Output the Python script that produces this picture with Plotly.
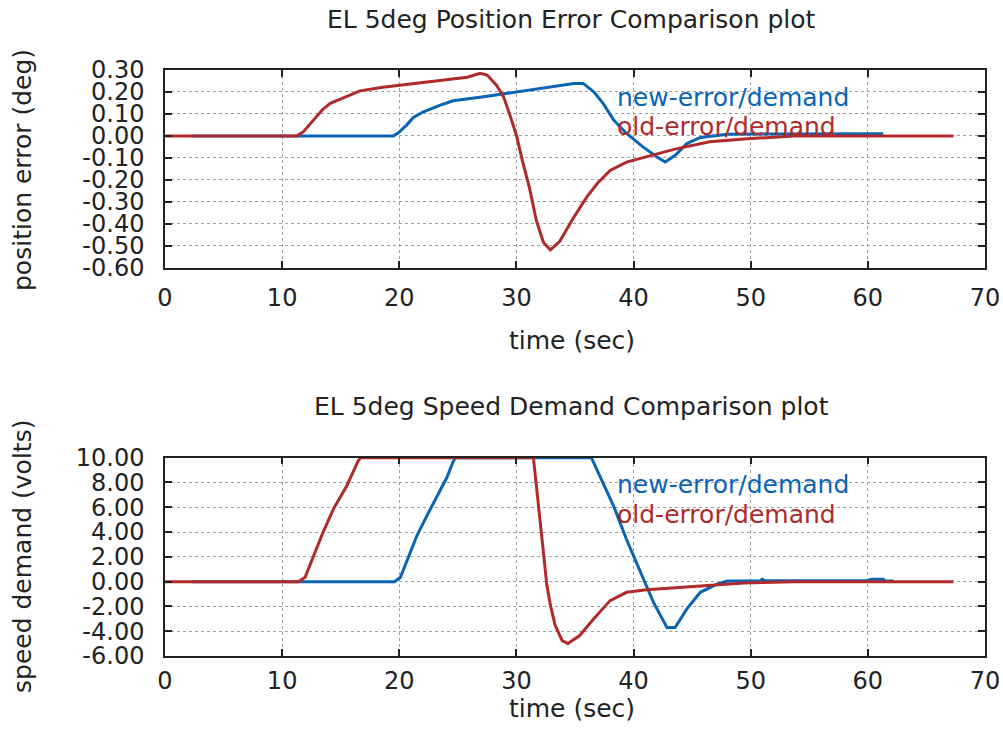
import plotly.graph_objects as go

# ---- data: position error (deg) vs time (sec) ----
new_err_t = [2.3, 19.5, 19.9, 20.6, 21.2, 22.06, 23.5, 24.6, 27.2, 30.0, 32.9, 34.9, 35.7,
             36.6, 37.4, 38.3, 39.4, 40.8, 42.0, 42.7, 43.55, 44.55, 45.7, 48.0, 61.3]
new_err_v = [0, 0, 0.013, 0.048, 0.084, 0.11, 0.14, 0.16, 0.178, 0.201, 0.224, 0.239, 0.239,
             0.201, 0.148, 0.072, 0.011, -0.05, -0.096, -0.119, -0.088, -0.035, -0.007, 0.008, 0.01]

old_err_t = [0, 11.25, 11.8, 12.67, 13.4, 14.1, 15.8, 16.65, 18.6, 20.1, 22.9, 25.8, 26.9, 27.5,
             28.3, 28.9, 29.4, 30.0, 30.5, 31.1, 31.7, 32.3, 32.9, 33.7, 34.9, 36.0, 36.9, 38.0,
             39.4, 41.1, 43.7, 46.5, 50.0, 53.7, 57.0, 67.3]
old_err_v = [0, 0, 0.018, 0.072, 0.117, 0.148, 0.186, 0.205, 0.221, 0.231, 0.251, 0.267, 0.285, 0.277,
             0.231, 0.178, 0.102, 0.003, -0.111, -0.233, -0.385, -0.484, -0.519, -0.48, -0.37, -0.279,
             -0.217, -0.157, -0.119, -0.096, -0.058, -0.027, -0.012, -0.001, 0, 0]

# ---- data: speed demand (volts) vs time (sec) ----
new_dem_t = [2.3, 19.6, 20.1, 20.6, 21.5, 22.35, 23.2, 24.06, 24.6, 24.8, 36.4, 37.4, 38.3, 39.4,
             40.6, 41.7, 42.85, 43.55, 44.55, 45.7, 47.1, 48.0, 50.8, 51.0, 51.2, 60.0, 60.3, 61.3,
             61.5, 62.2]
new_dem_v = [0, 0, 0.35, 1.56, 3.7, 5.3, 6.9, 8.4, 9.7, 10, 10, 8.0, 6.1, 3.4,
             0.75, -1.67, -3.7, -3.7, -2.2, -0.86, -0.2, 0.05, 0.08, 0.2, 0.08, 0.08, 0.2, 0.2,
             0.05, 0.05]

old_dem_t = [0, 11.4, 11.96, 12.67, 13.5, 14.4, 15.5, 16.5, 16.7, 31.45, 31.7, 32.0, 32.3, 32.6,
             32.9, 33.3, 33.9, 34.4, 35.4, 36.6, 38.0, 39.4, 41.1, 43.7, 46.5, 49.4, 53.7, 67.3]
old_dem_v = [0, 0, 0.35, 2.1, 4.0, 5.9, 7.7, 9.76, 10, 10, 7.7, 5.3, 2.4, -0.3,
             -1.9, -3.5, -4.76, -5.0, -4.35, -3.0, -1.53, -0.86, -0.65, -0.46, -0.27, -0.1, 0, 0]

x_ticks = [0, 10, 20, 30, 40, 50, 60, 70]
err_ticks = [0.30, 0.20, 0.10, 0.00, -0.10, -0.20, -0.30, -0.40, -0.50, -0.60]
dem_ticks = [10.0, 8.0, 6.0, 4.0, 2.0, 0.0, -2.0, -4.0, -6.0]

BLUE = "#0a64b4"
RED = "#b02a2a"
INK = "#222222"
FONT = "DejaVu Sans"
W, H = 1003, 744


def px(x):
    """pixel column -> paper x"""
    return x / W


def py(y):
    """pixel row -> paper y"""
    return 1 - y / H


def fmt(vals):
    # plain hyphen-minus, two decimals
    return [f"{v:.2f}" for v in vals]


fig = go.Figure()
fig.add_trace(go.Scatter(x=new_err_t, y=new_err_v, mode="lines", line=dict(color=BLUE, width=3),
                         xaxis="x", yaxis="y", showlegend=False))
fig.add_trace(go.Scatter(x=old_err_t, y=old_err_v, mode="lines", line=dict(color=RED, width=3),
                         xaxis="x", yaxis="y", showlegend=False))
fig.add_trace(go.Scatter(x=new_dem_t, y=new_dem_v, mode="lines", line=dict(color=BLUE, width=3),
                         xaxis="x2", yaxis="y2", showlegend=False))
fig.add_trace(go.Scatter(x=old_dem_t, y=old_dem_v, mode="lines", line=dict(color=RED, width=3),
                         xaxis="x2", yaxis="y2", showlegend=False))

axis_common = dict(
    automargin=False,
    showline=True, mirror="ticks", linecolor=INK, linewidth=1.5,
    ticks="inside", ticklen=7, tickcolor=INK, tickwidth=1.5,
    showgrid=True, gridcolor="#a0a0a0", griddash="dot", gridwidth=1,
    zeroline=False, tickfont=dict(family=FONT, size=24, color=INK),
)

x_dom = [px(165), px(985)]
fig.update_layout(
    width=W, height=H,
    margin=dict(l=0, r=0, t=0, b=0, pad=0, autoexpand=False),
    paper_bgcolor="white", plot_bgcolor="white",
    font=dict(family=FONT, color=INK),
    xaxis=dict(domain=x_dom, range=[0, 70], tickvals=x_ticks, anchor="y",
               ticklabelstandoff=8, **axis_common),
    yaxis=dict(domain=[py(267.7), py(70)], range=[-0.6, 0.3], tickvals=err_ticks,
               ticktext=fmt(err_ticks), anchor="x", ticklabelstandoff=14, **axis_common),
    xaxis2=dict(domain=x_dom, range=[0, 70], tickvals=x_ticks, anchor="y2",
                ticklabelstandoff=2, **axis_common),
    yaxis2=dict(domain=[py(656), py(457.7)], range=[-6, 10], tickvals=dem_ticks,
                ticktext=fmt(dem_ticks), anchor="x2", ticklabelstandoff=14, **axis_common),
)

texts = [
    ("EL 5deg Position Error Comparison plot", 571, 20, 0, "center", INK, 25),
    ("EL 5deg Speed Demand Comparison plot", 571, 407, 0, "center", INK, 25),
    ("time (sec)", 572, 341, 0, "center", INK, 25),
    ("time (sec)", 572, 708, 0, "center", INK, 25),
    ("position error (deg)", 22, 170, -90, "center", INK, 25),
    ("speed demand (volts)", 22, 557, -90, "center", INK, 25),
    ("new-error/demand", 615, 97, 0, "left", BLUE, 25),
    ("old-error/demand", 615, 127, 0, "left", RED, 25),
    ("new-error/demand", 615, 484, 0, "left", BLUE, 25),
    ("old-error/demand", 615, 514, 0, "left", RED, 25),
]
for txt, x, y, ang, anchor, col, size in texts:
    fig.add_annotation(text=txt, x=px(x), y=py(y), xref="paper", yref="paper",
                       xanchor=anchor, yanchor="middle", textangle=ang, showarrow=False,
                       font=dict(family=FONT, size=size, color=col))

fig.write_html("out.html")
